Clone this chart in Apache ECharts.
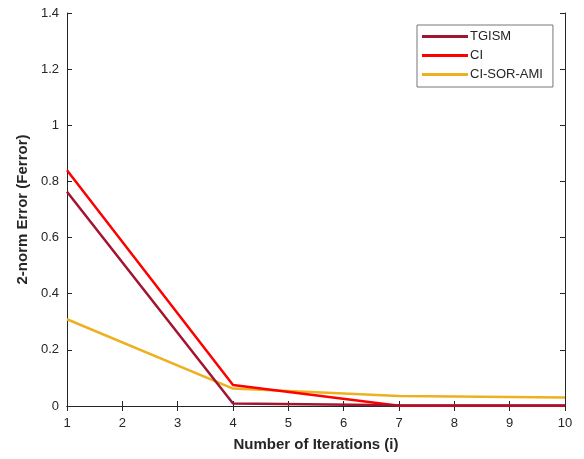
<!DOCTYPE html>
<html>
<head>
<meta charset="utf-8">
<script src="https://cdn.jsdelivr.net/npm/echarts@6/dist/echarts.min.js"></script>
<style>
  html, body { margin: 0; padding: 0; background: #fff; }
  #main { width: 584px; height: 459px; }
</style>
</head>
<body>
<div id="main"></div>
<script>
var iterations = [1, 4, 7, 10];
var tgism = [0.763, 0.009, 0.003, 0.002];
var ci = [0.84, 0.075, 0.001, 0.001];
var ciSorAmi = [0.309, 0.062, 0.036, 0.03];

var seriesNames = ['TGISM', 'CI', 'CI-SOR-AMI'];
var seriesColors = ['#A2142F', '#FF0000', '#EDB120'];
var seriesValues = [tgism, ci, ciSorAmi];

var chart = echarts.init(document.getElementById('main'));

function pairs(vals) {
  return vals.map(function (v, i) { return [iterations[i], v]; });
}

var font = 'Liberation Sans, Arial, sans-serif';

var option = {
  animation: false,
  backgroundColor: '#fff',
  grid: { left: 67, right: 19, top: 13, bottom: 53 },
  legend: {
    orient: 'vertical',
    left: 417,
    top: 25,
    itemWidth: 46,
    itemHeight: 3,
    itemGap: 4,
    icon: 'rect',
    padding: [4, 10, 5, 5],
    borderColor: '#777',
    borderWidth: 1,
    backgroundColor: '#fff',
    textStyle: { fontFamily: font, fontSize: 13, lineHeight: 15, color: '#262626', padding: [0, 0, 0, -3] },
    data: seriesNames
  },
  xAxis: [{
    type: 'value',
    min: 1, max: 10, interval: 1,
    name: 'Number of Iterations (i)',
    nameLocation: 'middle',
    nameGap: 31,
    nameTextStyle: { fontFamily: font, fontSize: 15, fontWeight: 'bold', color: '#262626' },
    axisLine: { show: true, lineStyle: { color: '#262626', width: 1 } },
    axisTick: { inside: true, length: 5, lineStyle: { color: '#262626' } },
    axisLabel: { fontFamily: font, fontSize: 13, color: '#262626', margin: 11 },
    splitLine: { show: false }
  }, {
    type: 'value',
    position: 'top',
    min: 1, max: 10, interval: 1,
    axisLine: { show: true, lineStyle: { color: '#262626', width: 1 } },
    axisTick: { inside: true, length: 5, lineStyle: { color: '#262626' } },
    axisLabel: { show: false },
    splitLine: { show: false }
  }],
  yAxis: [{
    type: 'value',
    min: 0, max: 1.4, interval: 0.2,
    name: '2-norm Error (Ferror)',
    nameLocation: 'middle',
    nameGap: 34,
    nameTextStyle: { fontFamily: font, fontSize: 15, fontWeight: 'bold', color: '#262626' },
    axisLine: { show: true, lineStyle: { color: '#262626', width: 1 } },
    axisTick: { inside: true, length: 5, lineStyle: { color: '#262626' } },
    axisLabel: { fontFamily: font, fontSize: 13, color: '#262626', margin: 8 },
    splitLine: { show: false }
  }, {
    type: 'value',
    position: 'right',
    min: 0, max: 1.4, interval: 0.2,
    axisLine: { show: true, lineStyle: { color: '#262626', width: 1 } },
    axisTick: { inside: true, length: 5, lineStyle: { color: '#262626' } },
    axisLabel: { show: false },
    splitLine: { show: false }
  }],
  series: seriesNames.map(function (name, i) {
    return {
      name: name,
      type: 'line',
      data: pairs(seriesValues[i]),
      symbol: 'none',
      color: seriesColors[i],
      lineStyle: { width: 2.5, color: seriesColors[i] },
      z: 3 - i
    };
  })
};

chart.setOption(option);
</script>
</body>
</html>
